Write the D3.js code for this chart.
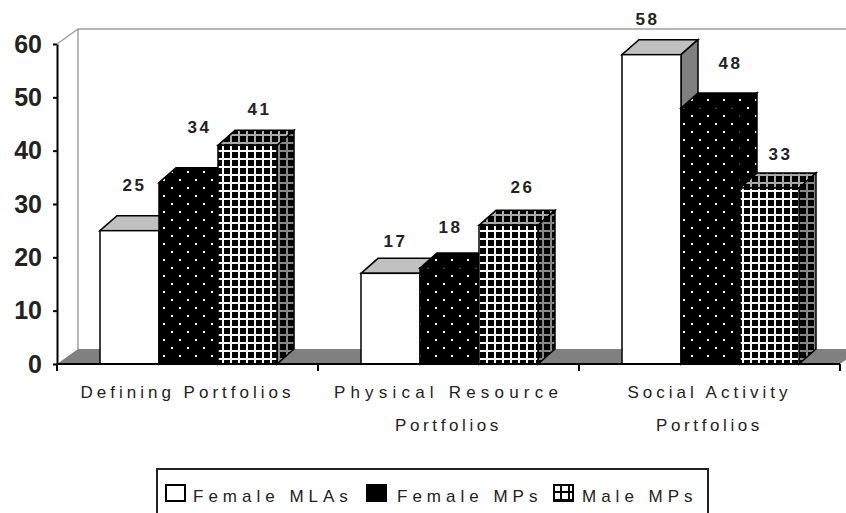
<!DOCTYPE html>
<html>
<head>
<meta charset="utf-8">
<script src="https://cdn.jsdelivr.net/npm/d3@7"></script>
<style>
  html, body { margin: 0; background: #fff; }
  svg { display: block; }
  text { font-family: "Liberation Sans", Arial, sans-serif; fill: #222; }
</style>
</head>
<body>
<div id="chart"></div>
<script>
const categories = ["Defining Portfolios", "Physical Resource Portfolios", "Social Activity Portfolios"];
const categoryLines = [["Defining Portfolios"], ["Physical Resource", "Portfolios"], ["Social Activity", "Portfolios"]];
const series = ["Female MLAs", "Female MPs", "Male MPs"];
const femaleMLAs = [25, 17, 58];
const femaleMPs = [34, 18, 48];
const maleMPs = [41, 26, 33];
const yTicks = [0, 10, 20, 30, 40, 50, 60];

(function () {
  const width = 846, height = 513;
  const depth = { x: 17, y: 15 };
  const wall = { x: 21, y: 15 };

  // the value labels sit off their bars in the original, by hand
  const labelNudge = {
    "Female MLAs": [[5, -40], [5, -26], [-4, -30]],
    "Female MPs": [[11, -50], [1, -35], [20, -39]],
    "Male MPs": [[12, -30], [14, -32], [11, -28]]
  };
  const lineSpacing = [[4], [5.2, 3.6], [4, 3.6]];

  const values = [femaleMLAs, femaleMPs, maleMPs];

  const svg = d3.select("#chart").append("svg")
    .attr("width", width)
    .attr("height", height)
    .attr("viewBox", `0 0 ${width} ${height}`);

  const x = d3.scaleBand().domain(categories).range([57, 840]);
  const x1 = d3.scaleBand().domain(series).range([43, 220]);
  const y = d3.scaleLinear().domain([0, 60]).range([364, 44]);

  const defs = svg.append("defs");

  function dotPattern(id) {
    const p = defs.append("pattern").attr("id", id).attr("patternUnits", "userSpaceOnUse")
      .attr("width", 16).attr("height", 16);
    p.append("rect").attr("width", 16).attr("height", 16).attr("fill", "#000");
    p.append("rect").attr("x", 3).attr("y", 3).attr("width", 2).attr("height", 2).attr("fill", "#eee");
    p.append("rect").attr("x", 11).attr("y", 11).attr("width", 2).attr("height", 2).attr("fill", "#eee");
  }

  function gridPattern(id, colour, back) {
    const p = defs.append("pattern").attr("id", id).attr("patternUnits", "userSpaceOnUse")
      .attr("width", 8).attr("height", 8);
    p.append("rect").attr("width", 8).attr("height", 8).attr("fill", back);
    p.append("rect").attr("x", 0).attr("y", 6).attr("width", 8).attr("height", 2).attr("fill", colour);
    p.append("rect").attr("x", 6).attr("y", 0).attr("width", 2).attr("height", 8).attr("fill", colour);
  }

  dotPattern("dots");
  gridPattern("grid", "#fff", "#000");
  gridPattern("gridTop", "#aaa", "#000");
  gridPattern("gridSide", "#888", "#000");
  gridPattern("gridKey", "#000", "#fff");

  const faces = {
    "Female MLAs": { front: "#fff", top: "#c0c0c0", side: "#808080", stroke: "#000", key: "#fff" },
    "Female MPs": { front: "url(#dots)", top: "url(#dots)", side: "url(#dots)", stroke: "#000", key: "#000" },
    "Male MPs": { front: "url(#grid)", top: "url(#gridTop)", side: "url(#gridSide)", stroke: "#000", key: "url(#gridKey)" }
  };

  const x0 = x.range()[0], x2 = x.range()[1];
  const y0 = y(0), yTop = y(60);

  // floor and back wall
  svg.append("polygon")
    .attr("points", [[x0, y0], [x0 + wall.x, y0 - wall.y], [x2 + wall.x, y0 - wall.y], [x2, y0]].join(" "))
    .attr("fill", "#808080");

  svg.append("path")
    .attr("d", `M${x0},${yTop}L${x0 + wall.x},${yTop - wall.y}H${width}M${x0 + wall.x},${yTop - wall.y}V${y0 - wall.y}`)
    .attr("fill", "none")
    .attr("stroke", "#a0a0a0")
    .attr("stroke-width", 1.5);

  // bars, back to front inside each group
  series.forEach((s, i) => {
    const g = svg.append("g").attr("class", "series");
    const bars = g.selectAll("g")
      .data(categories.map((c, j) => ({ c, v: values[i][j] })))
      .join("g");

    const left = d => x(d.c) + x1(s);
    const right = d => left(d) + x1.bandwidth();

    bars.append("polygon")
      .attr("points", d => [[left(d), y(d.v)], [left(d) + depth.x, y(d.v) - depth.y],
        [right(d) + depth.x, y(d.v) - depth.y], [right(d), y(d.v)]].join(" "))
      .attr("fill", faces[s].top)
      .attr("stroke", faces[s].stroke)
      .attr("stroke-width", 1.5);

    bars.append("polygon")
      .attr("points", d => [[right(d), y(d.v)], [right(d) + depth.x, y(d.v) - depth.y],
        [right(d) + depth.x, y0 - depth.y], [right(d), y0]].join(" "))
      .attr("fill", faces[s].side)
      .attr("stroke", faces[s].stroke)
      .attr("stroke-width", 1.5);

    bars.append("rect")
      .attr("x", left)
      .attr("y", d => y(d.v))
      .attr("width", x1.bandwidth())
      .attr("height", d => y0 - y(d.v))
      .attr("fill", faces[s].front)
      .attr("stroke", faces[s].stroke)
      .attr("stroke-width", 1.5);
  });

  // value labels go on top of every bar
  series.forEach((s, i) => {
    svg.append("g").selectAll("text")
      .data(values[i])
      .join("text")
      .attr("x", (d, j) => x(categories[j]) + x1(s) + x1.bandwidth() / 2 + labelNudge[s][j][0])
      .attr("y", (d, j) => y(d) + labelNudge[s][j][1])
      .attr("text-anchor", "middle")
      .attr("font-size", 17)
      .attr("font-weight", "bold")
      .attr("letter-spacing", 2.5)
      .text(d => d);
  });

  // axes
  const yAxis = svg.append("g")
    .attr("transform", `translate(${x0},0)`)
    .call(d3.axisLeft(y).tickValues(yTicks).tickSize(4).tickSizeOuter(0).tickPadding(11));
  yAxis.select(".domain").attr("stroke", "#000").attr("stroke-width", 2);
  yAxis.selectAll(".tick line").attr("stroke", "#000").attr("stroke-width", 2);
  yAxis.selectAll(".tick text")
    .attr("font-size", 25)
    .attr("font-weight", "bold")
    .attr("font-family", "'Liberation Sans', Arial, sans-serif")
    .attr("fill", "#222");

  const edges = categories.map(c => x(c)).concat([x2]);
  svg.append("line")
    .attr("x1", x0).attr("x2", x2).attr("y1", y0).attr("y2", y0)
    .attr("stroke", "#000").attr("stroke-width", 2);
  svg.append("g").selectAll("line")
    .data(edges)
    .join("line")
    .attr("x1", d => d).attr("x2", d => d)
    .attr("y1", y0).attr("y2", y0 + 7)
    .attr("stroke", "#000").attr("stroke-width", 2);

  const catLabels = svg.append("g").selectAll("text")
    .data(categories)
    .join("text")
    .attr("text-anchor", "middle")
    .attr("font-size", 17);
  catLabels.each(function (c, j) {
    d3.select(this).selectAll("tspan")
      .data(categoryLines[j])
      .join("tspan")
      .attr("x", x(c) + x.bandwidth() / 2)
      .attr("y", (d, k) => 398 + k * 33)
      .attr("letter-spacing", (d, k) => lineSpacing[j][k])
      .text(d => d);
  });

  // legend, the box runs off the bottom of the picture
  const legend = svg.append("g");
  legend.append("rect")
    .attr("x", 157).attr("y", 469).attr("width", 551).attr("height", 60)
    .attr("fill", "#fff").attr("stroke", "#222").attr("stroke-width", 2);

  const legendX = d3.scaleOrdinal().domain(series).range([166, 367, 554]);
  const legendTextX = d3.scaleOrdinal().domain(series).range([27, 30, 28]);
  const legendItems = legend.selectAll("g")
    .data(series)
    .join("g")
    .attr("transform", d => `translate(${legendX(d)},485)`);
  legendItems.append("rect")
    .attr("width", 19).attr("height", 16)
    .attr("fill", d => faces[d].key)
    .attr("stroke", "#000")
    .attr("stroke-width", 2);
  legendItems.append("text")
    .attr("x", d => legendTextX(d))
    .attr("y", 17)
    .attr("font-size", 17)
    .attr("letter-spacing", 5)
    .text(d => d);
})();
</script>
</body>
</html>
